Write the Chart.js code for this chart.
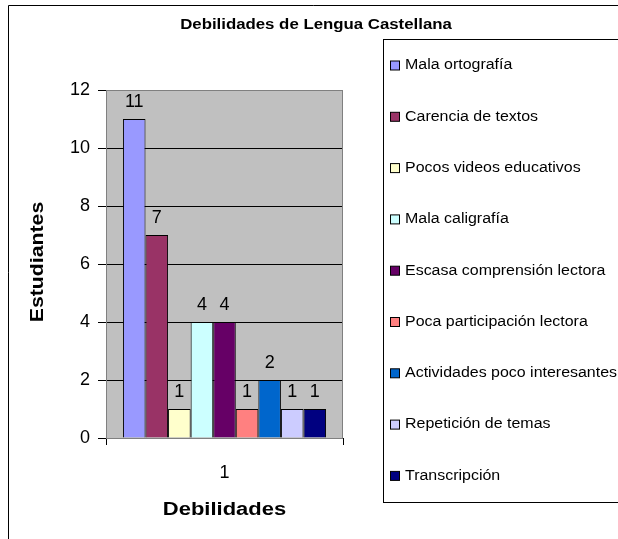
<!DOCTYPE html>
<html>
<head>
<meta charset="utf-8">
<script src="https://cdn.jsdelivr.net/npm/chart.js@4"></script>
<style>
body{margin:0;background:#fff;}
#box{width:618px;height:539px;position:relative;}
</style>
</head>
<body>
<div id="box"><canvas id="canvas" width="618" height="539"></canvas></div>
<script>
const categories=["1"];
const seriesNames=["Mala ortografía","Carencia de textos","Pocos videos educativos","Mala caligrafía","Escasa comprensión lectora","Poca participación lectora","Actividades poco interesantes","Repetición de temas","Transcripción"];
const seriesValues=[11,7,1,4,4,1,2,1,1];
const seriesColors=["#9999FF","#993366","#FFFFCC","#CCFFFF","#660066","#FF8080","#0066CC","#CCCCFF","#000080"];
const yTicks=[0,2,4,6,8,10,12];
const chartTitle="Debilidades de Lengua Castellana";
const xTitle="Debilidades";
const yTitle="Estudiantes";

const font="Arial, 'Liberation Sans', sans-serif";

// excel text comes out wider than canvas text, so stretch it sideways
function wide(c,text,x,y,sx,rot){
    c.save();
    c.translate(x,y);
    if(rot)c.rotate(rot);
    c.scale(sx,1);
    c.fillText(text,0,0);
    c.restore();
}

const extras={
    id:"extras",
    beforeDraw(chart){
        const c=chart.ctx;
        const a=chart.chartArea;
        c.save();
        c.fillStyle="#fff";
        c.fillRect(0,0,chart.width,chart.height);
        c.fillStyle="#C0C0C0";
        c.fillRect(a.left,a.top,a.right-a.left,a.bottom-a.top);
        c.restore();
    },
    afterDraw(chart){
        const c=chart.ctx;
        const a=chart.chartArea;
        c.save();
        // plot area border
        c.strokeStyle="#808080";
        c.lineWidth=1;
        c.strokeRect(a.left+0.5,a.top+0.5,a.right-a.left-1,a.bottom-a.top);
        // outer chart border
        c.strokeStyle="#000";
        c.beginPath();
        c.moveTo(8.5,539);
        c.lineTo(8.5,5.5);
        c.lineTo(618,5.5);
        c.stroke();
        // title
        c.fillStyle="#000";
        c.font="bold 14px "+font;
        c.textAlign="center";
        c.textBaseline="middle";
        wide(c,chartTitle,316,25,1.2);
        // axis titles
        c.font="bold 18px "+font;
        wide(c,xTitle,(a.left+a.right)/2,510,1.22);
        wide(c,yTitle,38,262,1.18,-Math.PI/2);
        // data labels
        c.font="18px "+font;
        c.textBaseline="alphabetic";
        chart.data.datasets.forEach((ds,i)=>{
            const bar=chart.getDatasetMeta(i).data[0];
            c.fillText(String(ds.data[0]),bar.x,bar.y-12);
        });
        // legend
        c.strokeStyle="#000";
        c.strokeRect(383.5,39.5,260,463);
        c.font="14px "+font;
        c.textAlign="left";
        c.textBaseline="middle";
        chart.data.datasets.forEach((ds,i)=>{
            const y=65.5+i*51.3;
            c.fillStyle=ds.backgroundColor;
            c.fillRect(390.5,y-4.5,9,9);
            c.strokeStyle="#000";
            c.strokeRect(390.5,y-4.5,9,9);
            c.fillStyle="#000";
            wide(c,ds.label,405,y,1.14);
        });
        c.restore();
    }
};

new Chart(document.getElementById("canvas"),{
    type:"bar",
    data:{
        labels:categories,
        datasets:seriesNames.map((name,i)=>({
            label:name,
            data:[seriesValues[i]],
            backgroundColor:seriesColors[i],
            borderColor:"#000",
            borderWidth:1,
            barPercentage:1,
            categoryPercentage:0.857
        }))
    },
    options:{
        responsive:false,
        animation:false,
        events:[],
        layout:{
            padding:{left:8,top:90,right:275,bottom:0}
        },
        plugins:{
            legend:{display:false},
            tooltip:{enabled:false},
            title:{display:false}
        },
        scales:{
            x:{
                grid:{
                    offset:true,
                    drawOnChartArea:false,
                    tickLength:7,
                    color:"#000"
                },
                border:{color:"#000"},
                ticks:{
                    color:"#000",
                    padding:17,
                    font:{family:font,size:18}
                },
                afterFit(s){s.height=101;}
            },
            y:{
                min:0,
                max:12,
                afterBuildTicks(s){s.ticks=yTicks.map(v=>({value:v}));},
                grid:{
                    color:"#000",
                    tickLength:8,
                    drawTicks:true
                },
                border:{color:"#000"},
                ticks:{
                    color:"#000",
                    padding:8,
                    font:{family:font,size:18}
                },
                afterFit(s){s.width=98;}
            }
        }
    },
    plugins:[extras]
});
</script>
</body>
</html>
